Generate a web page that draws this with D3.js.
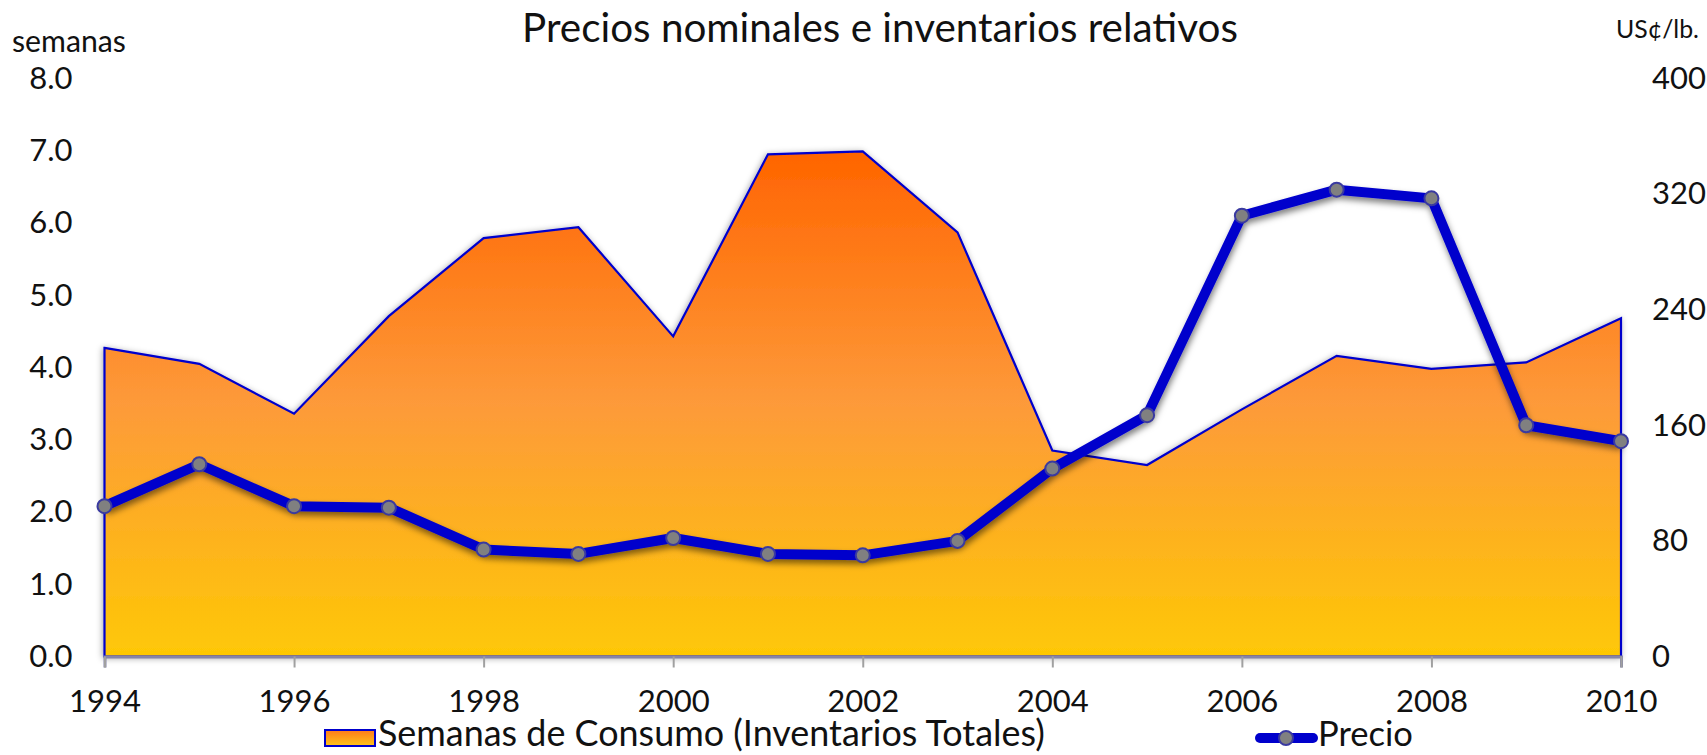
<!DOCTYPE html>
<html><head><meta charset="utf-8">
<script src="https://cdn.jsdelivr.net/npm/d3@7"></script>
<style>
html,body{margin:0;padding:0;background:#fff;}
text{font-family:Lato,"Open Sans",sans-serif;fill:#111;}
</style></head>
<body><svg id="c" width="1707" height="755"></svg>
<script>
const years = [1994,1995,1996,1997,1998,1999,2000,2001,2002,2003,2004,2005,2006,2007,2008,2009,2010];
const semanas = [4.27,4.05,3.36,4.71,5.79,5.94,4.43,6.95,6.99,5.87,2.85,2.65,3.42,4.16,3.98,4.07,4.68];
const precio = [104,133,104,103,74,71,82,71,70,80,130,167,305,323,317,160,149];
const leftTicks = [0,1,2,3,4,5,6,7,8];
const rightTicks = [0,80,160,240,320,400];
const yearTicks = [1994,1996,1998,2000,2002,2004,2006,2008,2010];
const titleText = "Precios nominales e inventarios relativos";
const leftLabel = "semanas";
const rightLabel = "US¢/lb.";
const seriesNames = ["Semanas de Consumo (Inventarios Totales)", "Precio"];

const svg = d3.select("#c");
const x = d3.scaleLinear().domain([1994,2010]).range([104.5,1621]);
const yL = d3.scaleLinear().domain([0,8]).range([656.5,78.4]);
const yR = d3.scaleLinear().domain([0,400]).range([656.5,78.4]);

const defs = svg.append("defs");
const g1 = defs.append("linearGradient").attr("id","areaGrad")
  .attr("gradientUnits","userSpaceOnUse").attr("x1",0).attr("x2",0)
  .attr("y1",yL(7)).attr("y2",yL(0));
[[0,"#ff6400"],[0.5,"#fd9a3a"],[1,"#fec805"]].forEach(s=>g1.append("stop").attr("offset",s[0]).attr("stop-color",s[1]));
const g2 = defs.append("linearGradient").attr("id","legGrad").attr("x1",0).attr("x2",0).attr("y1",0).attr("y2",1);
[[0,"#ff7a1a"],[1,"#fdc41a"]].forEach(s=>g2.append("stop").attr("offset",s[0]).attr("stop-color",s[1]));
const f1 = defs.append("filter").attr("id","shA").attr("x","-10%").attr("y","-10%").attr("width","120%").attr("height","120%");
f1.append("feDropShadow").attr("dx",-1).attr("dy",1).attr("stdDeviation",3).attr("flood-color","#000").attr("flood-opacity",0.35);
const f2 = defs.append("filter").attr("id","shL").attr("x","-10%").attr("y","-10%").attr("width","120%").attr("height","120%");
f2.append("feDropShadow").attr("dx",1).attr("dy",4).attr("stdDeviation",3).attr("flood-color","#000").attr("flood-opacity",0.5);
const f3 = defs.append("filter").attr("id","shG").attr("x","-5%").attr("y","-200%").attr("width","110%").attr("height","500%");
f3.append("feDropShadow").attr("dx",0).attr("dy",1).attr("stdDeviation",0.6).attr("flood-color","#000").attr("flood-opacity",0.25);

// gridlines
svg.append("g").selectAll("line").data(leftTicks.filter(d=>d>0)).join("line")
  .attr("x1",x(1994)).attr("x2",x(2010)).attr("y1",d=>yL(d)).attr("y2",d=>yL(d))
  .attr("stroke","#9a9a9a").attr("stroke-width",2).attr("filter","url(#shG)");

// area
const area = d3.area().x((d,i)=>x(years[i])).y0(yL(0)).y1(d=>yL(d));
svg.append("path").datum(semanas).attr("d",area)
  .attr("fill","url(#areaGrad)").attr("stroke","#0000cc").attr("stroke-width",2.2)
  .attr("stroke-linejoin","miter").attr("filter","url(#shA)");

// bottom axis
const xAxis = d3.axisBottom(x).tickValues(yearTicks).tickFormat(d3.format("d")).tickSize(11).tickPadding(22);
const gx = svg.append("g").attr("transform",`translate(0,${yL(0)})`).call(xAxis);
gx.select(".domain").attr("stroke","#8585a8").attr("stroke-width",3);
gx.selectAll(".tick line").attr("stroke","#a0a0a0").attr("stroke-width",2);
gx.selectAll(".tick text").style("font-size","31px").style("font-family","Lato").attr("fill","#111");

// left axis
const yAxisL = d3.axisLeft(yL).tickValues(leftTicks).tickFormat(d3.format(".1f")).tickSize(0).tickPadding(32);
const gl = svg.append("g").attr("transform",`translate(${x(1994)},0)`).call(yAxisL);
gl.select(".domain").remove();
gl.selectAll(".tick text").style("font-size","31px").style("font-family","Lato").attr("fill","#111");

// right axis
const yAxisR = d3.axisRight(yR).tickValues(rightTicks).tickFormat(d3.format("d")).tickSize(0).tickPadding(31);
const gr = svg.append("g").attr("transform",`translate(${x(2010)},0)`).call(yAxisR);
gr.select(".domain").remove();
gr.selectAll(".tick text").style("font-size","31px").style("font-family","Lato").attr("fill","#111");

// price line
const line = d3.line().x((d,i)=>x(years[i])).y(d=>yR(d));
svg.append("path").datum(precio).attr("d",line).attr("fill","none")
  .attr("stroke","#0000cc").attr("stroke-width",10).attr("stroke-linejoin","round").attr("filter","url(#shL)");
svg.append("g").selectAll("circle").data(precio).join("circle")
  .attr("cx",(d,i)=>x(years[i])).attr("cy",d=>yR(d)).attr("r",7)
  .attr("fill","#808080").attr("stroke","#3a3aa0").attr("stroke-width",2);

function fit(sel, target){
  const w = sel.node().getComputedTextLength();
  const fs = parseFloat(sel.style("font-size"));
  sel.style("font-size",(fs*target/w)+"px");
}

// titles
const t = svg.append("text").attr("x",880).attr("y",42).attr("text-anchor","middle").style("font-size","36px").text(titleText);
fit(t,716);
const sl = svg.append("text").attr("x",12).attr("y",52).style("font-size","22px").text(leftLabel);
fit(sl,114);
const sr = svg.append("text").attr("x",1616).attr("y",38).style("font-size","22px").text(rightLabel);
fit(sr,83);

// legend
const lg = svg.append("g");
lg.append("rect").attr("x",325).attr("y",730).attr("width",50).attr("height",16)
  .attr("fill","url(#legGrad)").attr("stroke","#0000cc").attr("stroke-width",2);
const l1 = lg.append("text").attr("x",378).attr("y",746).style("font-size","29px").text(seriesNames[0]);
fit(l1,667);
lg.append("line").attr("x1",1260).attr("x2",1313).attr("y1",738).attr("y2",738)
  .attr("stroke","#0000cc").attr("stroke-width",10).attr("stroke-linecap","round");
lg.append("circle").attr("cx",1286).attr("cy",738).attr("r",7).attr("fill","#808080").attr("stroke","#3a3aa0").attr("stroke-width",2);
const l2 = lg.append("text").attr("x",1318).attr("y",746).style("font-size","29px").text(seriesNames[1]);
fit(l2,95);
</script></body></html>
